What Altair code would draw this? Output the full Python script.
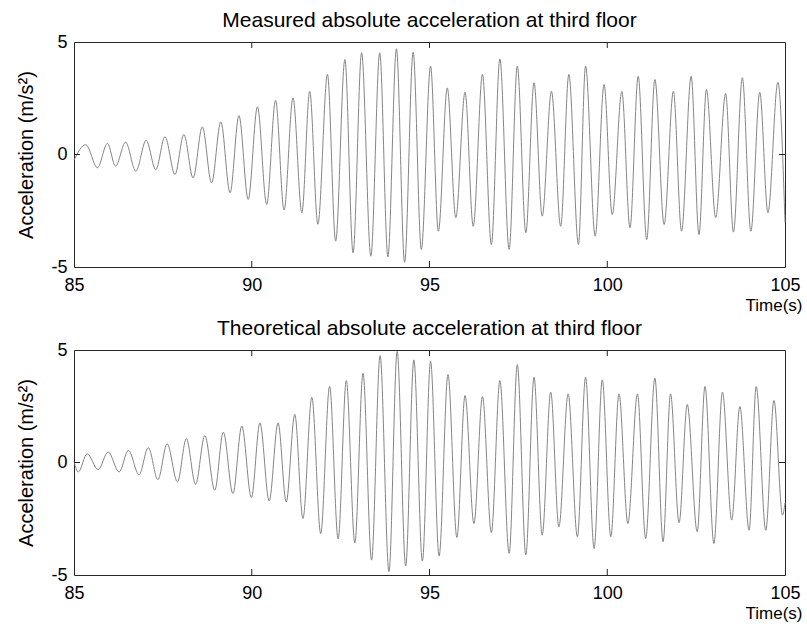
import altair as alt
import pandas as pd

# ---- data (extrema of each oscillation) ----
top_time = [85.00, 85.33, 85.66, 85.94, 86.17, 86.45, 86.74, 87.03, 87.30, 87.56,
            87.84, 88.09, 88.35, 88.61, 88.87, 89.13, 89.39, 89.64, 89.90, 90.16,
            90.42, 90.67, 90.91, 91.16, 91.41, 91.63, 91.86, 92.13, 92.36, 92.62,
            92.85, 93.09, 93.35, 93.60, 93.83, 94.07, 94.30, 94.54, 94.77, 95.03,
            95.25, 95.50, 95.74, 96.00, 96.23, 96.49, 96.74, 96.98, 97.24, 97.47,
            97.71, 97.94, 98.17, 98.43, 98.69, 98.92, 99.19, 99.39, 99.66, 99.91,
            100.14, 100.41, 100.64, 100.87, 101.11, 101.34, 101.60, 101.86, 102.09, 102.36,
            102.58, 102.79, 103.05, 103.33, 103.55, 103.80, 104.04, 104.29, 104.52, 104.80,
            105.00]
top_accel = [-0.25, 0.44, -0.59, 0.49, -0.52, 0.55, -0.74, 0.63, -0.67, 0.79,
             -0.89, 0.89, -1.04, 1.23, -1.26, 1.45, -1.70, 1.73, -2.00, 2.12,
             -2.22, 2.41, -2.47, 2.52, -2.59, 2.81, -3.10, 3.56, -3.85, 4.22,
             -4.37, 4.52, -4.52, 4.52, -4.55, 4.70, -4.79, 4.55, -4.22, 3.93,
             -3.41, 2.96, -2.81, 2.77, -3.19, 3.56, -4.00, 4.25, -4.22, 3.93,
             -3.48, 3.19, -2.74, 2.81, -3.19, 3.56, -4.00, 3.93, -3.63, 3.11,
             -2.67, 2.81, -3.26, 3.48, -3.78, 3.33, -3.11, 2.81, -3.41, 3.48,
             -3.56, 2.89, -2.81, 2.71, -3.45, 3.41, -3.41, 2.77, -2.59, 3.21,
             -3.00]

bot_time = [85.00, 85.12, 85.37, 85.68, 85.96, 86.27, 86.53, 86.83, 87.09, 87.36,
            87.62, 87.91, 88.16, 88.42, 88.68, 88.96, 89.20, 89.47, 89.72, 89.99,
            90.23, 90.49, 90.74, 90.97, 91.21, 91.44, 91.69, 91.94, 92.19, 92.43,
            92.66, 92.90, 93.13, 93.37, 93.61, 93.86, 94.09, 94.33, 94.56, 94.80,
            95.03, 95.27, 95.52, 95.77, 96.00, 96.25, 96.49, 96.74, 96.98, 97.24,
            97.47, 97.71, 97.94, 98.17, 98.41, 98.64, 98.90, 99.16, 99.39, 99.63,
            99.86, 100.10, 100.33, 100.58, 100.85, 101.08, 101.34, 101.57, 101.78, 102.02,
            102.25, 102.53, 102.75, 103.00, 103.24, 103.50, 103.73, 103.99, 104.19, 104.46,
            104.69, 104.93, 105.00]
bot_accel = [0.05, -0.42, 0.39, -0.32, 0.47, -0.42, 0.54, -0.54, 0.66, -0.76,
             0.83, -0.86, 1.06, -0.97, 1.20, -1.23, 1.35, -1.38, 1.62, -1.56,
             1.76, -1.71, 1.76, -1.75, 2.14, -2.49, 2.90, -3.16, 3.38, -3.40,
             3.64, -3.57, 3.97, -4.34, 4.75, -4.85, 4.94, -4.60, 4.56, -4.38,
             4.50, -4.16, 3.91, -3.33, 2.98, -2.71, 2.93, -3.12, 3.64, -4.04,
             4.35, -4.11, 3.79, -3.23, 3.13, -2.86, 3.05, -3.30, 3.79, -3.82,
             3.67, -3.30, 3.05, -2.71, 3.05, -3.38, 3.75, -3.52, 3.05, -2.68,
             2.58, -3.08, 3.38, -3.60, 3.13, -2.56, 2.49, -3.01, 3.38, -3.01,
             2.76, -2.34, -1.80]

x_ticks = [85, 90, 95, 100, 105]
y_ticks = [-5, 0, 5]
inner_x_ticks = [90, 95, 100]
inner_y_ticks = [0]

titles = ["Measured absolute acceleration at third floor",
          "Theoretical absolute acceleration at third floor"]

FONT = "Liberation Sans"
W, H = 711, 225
TICK = 6

X_AXIS = alt.Axis(values=x_ticks, labelExpr="'' + datum.value", title="Time(s)",
                  titleX=W + 17, titleY=43, titleAlign="right",
                  titleBaseline="alphabetic", titleFontSize=17, labelPadding=9)
Y_AXIS = alt.Axis(values=y_ticks, labelExpr="'' + datum.value",
                  title="Acceleration (m/s²)", titleFontSize=20, titlePadding=14,
                  labelPadding=7)


def panel(t, a, title):
    df = pd.DataFrame({"t": t, "a": a})
    xs = alt.Scale(domain=[85, 105], nice=False, zero=False)
    ys = alt.Scale(domain=[-5, 5], nice=False, zero=False)
    line = alt.Chart(df).mark_line(
        color="#858585", strokeWidth=1, interpolate="monotone"
    ).encode(
        x=alt.X("t:Q", scale=xs, axis=X_AXIS),
        y=alt.Y("a:Q", scale=ys, axis=Y_AXIS),
    )
    tdf = pd.DataFrame({"t": inner_x_ticks})
    top_t = alt.Chart(tdf).mark_rule(color="#222222").encode(
        x=alt.X("t:Q", scale=xs, axis=X_AXIS), y=alt.value(0), y2=alt.value(TICK))
    bot_t = alt.Chart(tdf).mark_rule(color="#222222").encode(
        x=alt.X("t:Q", scale=xs, axis=X_AXIS), y=alt.value(H - TICK), y2=alt.value(H))
    ydf = pd.DataFrame({"a": inner_y_ticks})
    left_t = alt.Chart(ydf).mark_rule(color="#222222").encode(
        y=alt.Y("a:Q", scale=ys, axis=Y_AXIS), x=alt.value(0), x2=alt.value(TICK))
    right_t = alt.Chart(ydf).mark_rule(color="#222222").encode(
        y=alt.Y("a:Q", scale=ys, axis=Y_AXIS), x=alt.value(W - TICK), x2=alt.value(W))
    return alt.layer(line, top_t, bot_t, left_t, right_t).properties(
        width=W, height=H,
        title=alt.TitleParams(title, fontSize=21, font=FONT, fontWeight="normal",
                              color="black", anchor="middle", offset=2),
    )


chart = alt.vconcat(
    panel(top_time, top_accel, titles[0]),
    panel(bot_time, bot_accel, titles[1]),
    spacing=3,
).properties(
    padding={"left": 16, "top": 9, "right": 0, "bottom": 0},
    background="white",
).configure_view(
    stroke="#262626", strokeWidth=1
).configure_axis(
    domain=False, ticks=False, tickSize=0, grid=False,
    labelFont=FONT, labelFontSize=18, labelColor="black", labelFlush=False,
    titleFont=FONT, titleFontWeight="normal", titleColor="black",
)

chart.save("out.html", embed_options={"renderer": "svg", "actions": False})
